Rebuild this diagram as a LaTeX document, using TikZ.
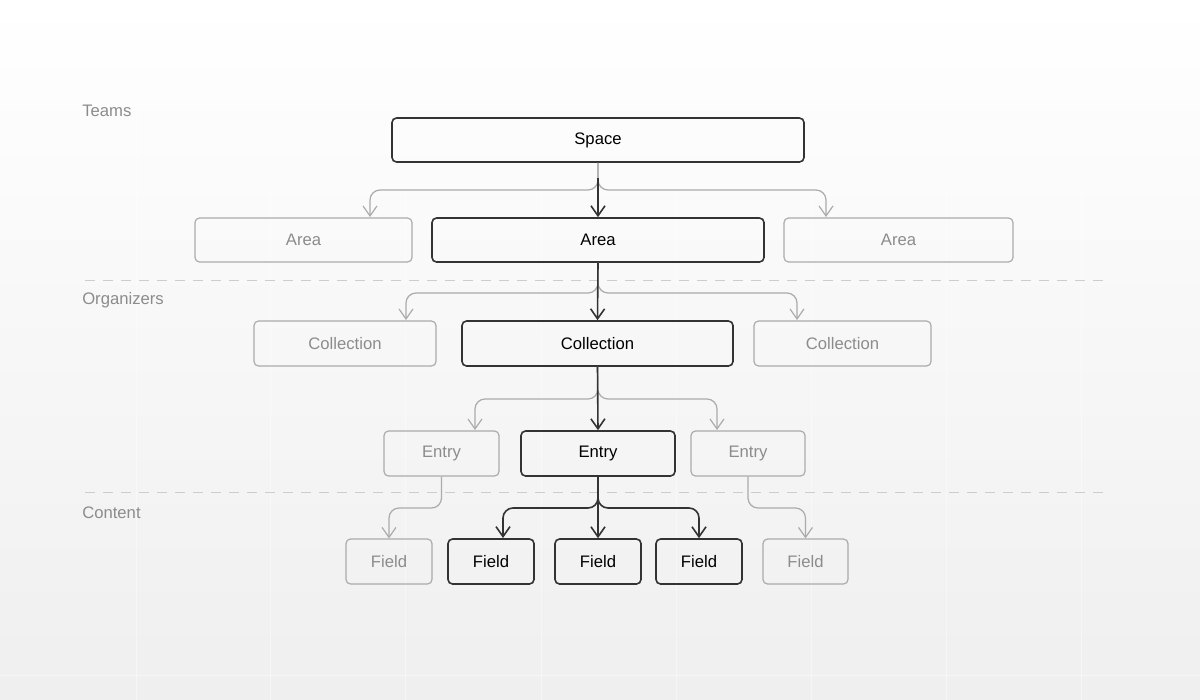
\documentclass[tikz,border=0pt]{standalone}
\usepackage{fontspec}
\setmainfont{Liberation Sans}
\usetikzlibrary{arrows.meta}
\definecolor{dk}{HTML}{333333}
\definecolor{lg}{HTML}{ABABAB}
\definecolor{lbl}{HTML}{8C8C8C}
\definecolor{bgb}{HTML}{EFEFEF}
\definecolor{dsh}{HTML}{CDCDCD}
\tikzset{
  base/.style={rectangle, rounded corners=3.4pt, minimum height=33pt, inner sep=0pt, font=\fontsize{12.5}{15}\selectfont},
  on/.style={base, draw=dk, line width=1.2pt, text=black},
  off/.style={base, draw=lg, line width=0.9pt, text=lbl},
  tip/.style={-{Straight Barb[length=7.5pt,width=10.5pt]}},
  darr/.style={tip, draw=dk, line width=1.2pt, rounded corners=7.5pt},
  garr/.style={tip, draw=lg, line width=0.9pt, rounded corners=7.5pt},
  sep/.style={draw=dsh, line width=0.75pt, dash pattern=on 7.5pt off 6pt},
  tier/.style={anchor=west, text=lbl, font=\fontsize{12.5}{15}\selectfont, inner sep=0pt}
}
\begin{document}
\begin{tikzpicture}[x=0.75pt,y=-0.75pt]
\useasboundingbox (0,0) rectangle (1200,700);
\shade[top color=white, bottom color=bgb] (0,0) rectangle (1200,700);
\foreach \gx in {136,270,405,541,676,811,946,1081}
  \draw[white, line width=0.6pt, opacity=0.4] (\gx,0) -- (\gx,700);
\draw[white, line width=0.6pt, opacity=0.4] (0,675) -- (1200,675);

% tier labels
\node[tier] (tTeams) at (82,111) {Teams};
\node[tier] (tOrg) at (82,300) {Organizers};
\node[tier] (tCont) at (82,513) {Content};

% separators
\coordinate (s1a) at (85,280); \coordinate (s1b) at (1105,280);
\coordinate (s2a) at (85,492); \coordinate (s2b) at (1105,492);
\draw[sep] (s1a) -- (s1b);
\draw[sep] (s2a) -- (s2b);

% nodes
\node[on, minimum width=309pt] (space) at (598,140) {Space};
\node[off, minimum width=162.75pt] (areaL) at (303.5,240) {Area};
\node[on, minimum width=249pt] (areaM) at (598,240) {Area};
\node[off, minimum width=171.75pt] (areaR) at (898.5,240) {Area};

\node[off, minimum width=136.5pt, minimum height=33.75pt] (colL) at (345,343.5) {Collection};
\node[on, minimum width=203.25pt, minimum height=33.75pt] (colM) at (597.5,343.5) {Collection};
\node[off, minimum width=132.75pt, minimum height=33.75pt] (colR) at (842.5,343.5) {Collection};

\node[off, minimum width=86.25pt, minimum height=33.75pt] (entL) at (441.5,453.5) {Entry};
\node[on, minimum width=115.5pt, minimum height=33.75pt] (entM) at (598,453.5) {Entry};
\node[off, minimum width=85.5pt, minimum height=33.75pt] (entR) at (748,453.5) {Entry};

\node[off, minimum width=64.5pt, minimum height=33.75pt] (f1) at (389,561.5) {Field};
\node[on, minimum width=64.5pt, minimum height=33.75pt] (f2) at (491,561.5) {Field};
\node[on, minimum width=64.5pt, minimum height=33.75pt] (f3) at (598,561.5) {Field};
\node[on, minimum width=64.5pt, minimum height=33.75pt] (f4) at (699,561.5) {Field};
\node[off, minimum width=63.75pt, minimum height=33.75pt] (f5) at (805.5,561.5) {Field};

% Space -> Areas
\draw[garr] (space.south) -- (598,190) -- (370,190) -- (370,217);
\draw[garr] (space.south) -- (598,190) -- (826,190) -- (826,217);
\draw[darr, rounded corners=0pt] (598,178) -- (areaM.north);
% Areas -> Collections
\draw[garr] (areaM.south) -- (598,293) -- (406,293) -- (406,320);
\draw[garr] (areaM.south) -- (598,293) -- (797,293) -- (797,320);
\draw[darr, rounded corners=0pt] (areaM.south) -- (colM.north);
% Collections -> Entries
\draw[garr] (colM.south) -- (598,399) -- (475,399) -- (475,430);
\draw[garr] (colM.south) -- (598,399) -- (717,399) -- (717,430);
\draw[darr, rounded corners=0pt] (colM.south) -- (entM.north);
% Entries -> Fields
\draw[garr] (entL.south) -- (441.5,508) -- (389,508) -- (f1.north);
\draw[garr] (entR.south) -- (748,508) -- (805.5,508) -- (f5.north);
\draw[darr] (entM.south) -- (598,508) -- (503,508) -- (503,538);
\draw[darr] (entM.south) -- (598,508) -- (699,508) -- (f4.north);
\draw[darr, rounded corners=0pt] (entM.south) -- (f3.north);
\end{tikzpicture}
\end{document}
